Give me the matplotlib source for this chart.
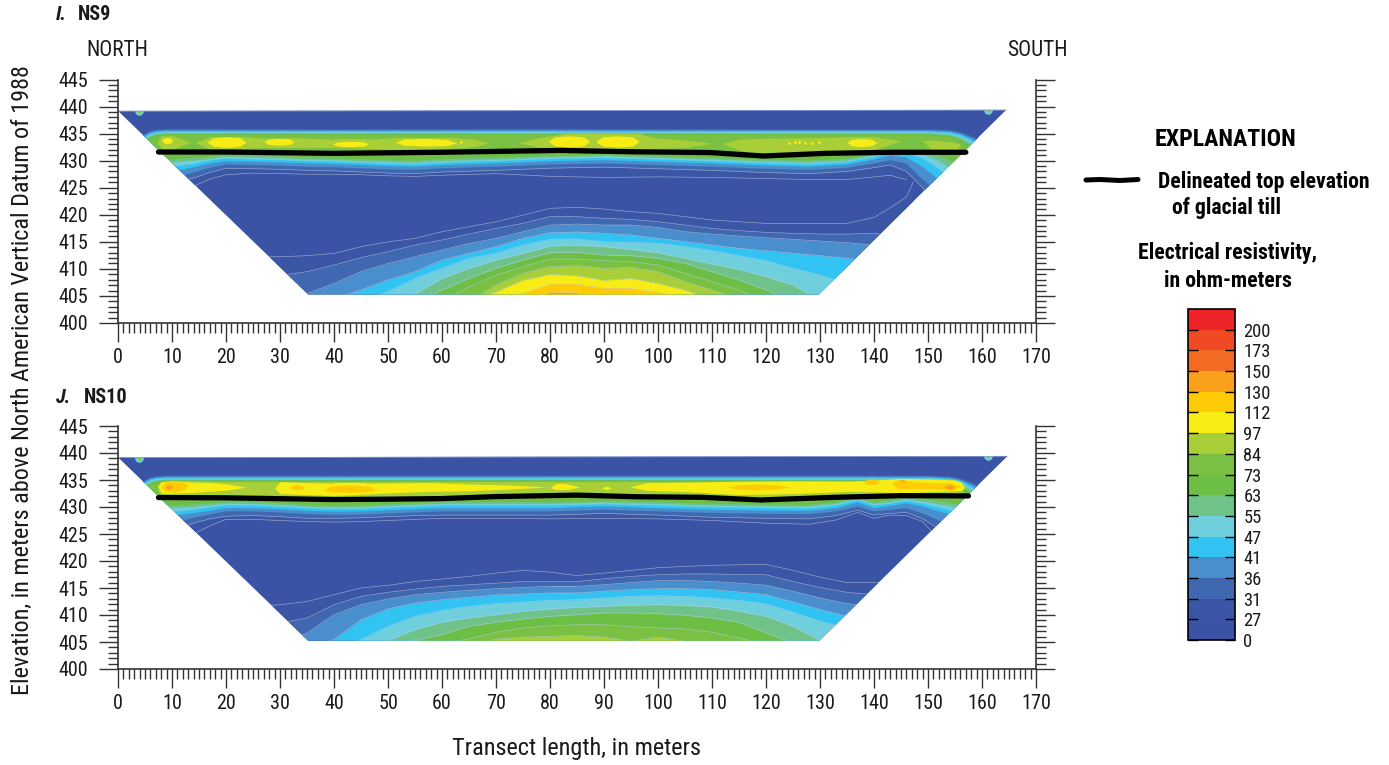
import numpy as np
import matplotlib
matplotlib.use('Agg')
import matplotlib.pyplot as plt
from matplotlib.cm import ScalarMappable
from matplotlib.colors import BoundaryNorm, ListedColormap
from matplotlib.lines import Line2D
from matplotlib.patches import Polygon
from matplotlib.ticker import MultipleLocator

plt.rcParams['font.family'] = ['Roboto Condensed', 'Liberation Sans Narrow', 'Roboto', 'Liberation Sans', 'DejaVu Sans']

W, H = 1389, 765

# legend scale, ohm-meters
levels = [0, 27, 31, 36, 41, 47, 55, 63, 73, 84, 97, 112, 130, 150, 173, 200, 230]
level_labels = ['0', '27', '31', '36', '41', '47', '55', '63', '73', '84', '97', '112', '130', '150', '173', '200']
colors = ['#3a53a4', '#3c56a6', '#3f68b1', '#4a8fcd', '#31c4f3', '#70cfdd', '#6fc388', '#6cbe45',
          '#7ac143', '#a8cf38', '#f7ec13', '#ffcb05', '#fba01c', '#f36b23', '#f04a25', '#ed2327']

# section outline (transect length, elevation)
outline_x_i = [0, 164.5, 129.8, 35.2]
outline_y_i = [439.2, 439.4, 405.3, 405.3]
outline_x_j = [0, 164.75, 129.9, 35.2]
outline_y_j = [439.2, 439.45, 405.26, 405.26]

# till top
till_x_i = [7.5, 20, 40, 50, 60, 82, 94, 109.6, 119.5, 131, 143.6, 157]
till_y_i = [431.6, 431.6, 431.35, 431.45, 431.55, 431.9, 431.66, 431.5, 430.86, 431.35, 431.55, 431.55]
till_x_j = [7.5, 20, 40, 50, 60, 70, 85, 96, 108, 119, 133, 145, 157.5]
till_y_j = [431.75, 431.7, 431.38, 431.45, 431.56, 431.93, 432.2, 431.9, 431.8, 431.3, 431.8, 432.1, 432.05]

# upper edge of the shallow conductive band, same in both sections
top_x = [3, 5, 6, 7, 9, 40, 80, 120, 150, 154, 156, 158, 160]
top_27 = [433, 435.3, 435.7, 435.85, 435.95, 435.9, 435.95, 435.9, 435.9, 435.8, 435.5, 434.9, 434]
top_31 = [432.8, 435, 435.5, 435.7, 435.85, 435.8, 435.85, 435.8, 435.8, 435.65, 435.3, 434.6, 433.7]
top_36 = [432.6, 434.8, 435.3, 435.55, 435.7, 435.67, 435.7, 435.67, 435.67, 435.5, 435.1, 434.3, 433.4]
top_41 = [432.4, 434.6, 435.1, 435.35, 435.5, 435.48, 435.5, 435.48, 435.48, 435.3, 434.9, 434, 433]
top_47 = [432.2, 434.3, 434.9, 435.15, 435.3, 435.3, 435.3, 435.3, 435.3, 435.1, 434.6, 433.6, 432.5]
top_55 = [432, 434, 434.6, 434.95, 435.1, 435.1, 435.1, 435.1, 435.1, 434.85, 434.3, 433.2, 432]
top_63 = [431.8, 433.6, 434.3, 434.75, 434.93, 434.93, 434.93, 434.93, 434.93, 434.6, 433.9, 432.6, 431]
top_73 = [431.5, 433.2, 433.9, 434.45, 434.74, 434.74, 434.74, 434.74, 434.74, 434.3, 433.4, 431.8, 429]

# I. NS9, lower edge of the band per contour
base_x_i = [6, 8, 11, 14, 17, 20, 25, 30, 35, 40, 45, 50, 55, 60, 70, 80, 90, 100, 110, 120, 128, 135, 140, 143, 146, 149, 152, 155, 158]
base_27_i = [424, 424.4, 424.8, 425.3, 426.6, 427.4, 427.7, 427.6, 427.5, 427.5, 427.4, 427.2, 427.1, 427.3, 427.6, 427.1, 426.9, 427, 426.9, 426.7, 426.5, 426.5, 427, 427.3, 426.5, np.nan, np.nan, np.nan, np.nan]
base_31_i = [425, 425.5, 426, 426.8, 427.8, 428.6, 428.5, 428.4, 428.2, 428.1, 427.9, 427.7, 427.6, 427.9, 428.2, 428.6, 428.8, 428.5, 428.2, 427.8, 427.6, 428, 428.7, 429.2, 428, 425, 422, 419, 416]
base_36_i = [426.5, 426.8, 427, 427.8, 428.7, 429.3, 429.2, 429.1, 428.9, 428.8, 428.6, 428.4, 428.3, 428.6, 428.9, 429.3, 429.5, 429.2, 428.9, 428.5, 428.3, 428.7, 429.5, 430.1, 429.5, 426.5, 424, 421, 418]
base_41_i = [428, 428, 428.2, 428.8, 429.5, 429.9, 429.8, 429.7, 429.5, 429.4, 429.2, 429, 428.9, 429.2, 429.5, 429.9, 430.1, 429.8, 429.5, 429.1, 428.9, 429.3, 430.2, 431, 430.6, 428.9, 426.5, 424, 420]
base_47_i = [428.8, 428.9, 429, 429.4, 430, 430.4, 430.2, 430.1, 429.9, 429.8, 429.6, 429.4, 429.3, 429.6, 429.9, 430.3, 430.5, 430.2, 429.9, 429.5, 429.3, 429.7, 430.6, 431.4, 431.4, 430.4, 428.5, 426, 422]
base_55_i = [429.4, 429.5, 429.7, 430, 430.3, 430.7, 430.5, 430.4, 430.2, 430.1, 429.9, 429.7, 429.6, 429.9, 430.2, 430.6, 430.8, 430.5, 430.2, 429.8, 429.6, 430, 430.9, 431.6, 431.8, 431.3, 429.9, 428, 424]
base_63_i = [430, 430.1, 430.3, 430.5, 430.7, 431, 430.9, 430.8, 430.6, 430.4, 430.3, 430.1, 430, 430.3, 430.6, 430.9, 431.1, 430.8, 430.5, 430.2, 430, 430.4, 431.2, 431.8, 432, 431.9, 431, 429.5, 426]
base_73_i = [430.8, 431, 431, 431.1, 431.3, 431.5, 431.4, 431.3, 431.1, 431, 430.9, 430.8, 430.7, 430.9, 431.2, 431.5, 431.6, 431.4, 431.1, 430.8, 430.6, 431, 431.6, 432.1, 432.2, 432.2, 431.8, 430.9, 428]

# J. NS10
base_x_j = [6, 8, 11, 14, 17, 20, 25, 30, 35, 40, 45, 50, 55, 60, 70, 80, 90, 100, 110, 120, 128, 133, 137, 140, 143, 146, 149, 152, 155, 158]
base_27_j = [423, 423.5, 424, 425, 426.5, 427.7, 427.7, 427.5, 427.3, 427.2, 427.3, 427.5, 427.7, 427.9, 427.9, 427.8, 427.9, 427.8, 427.5, 427, 426.8, 427.6, 429, 427.9, 428.5, 428.4, 427.3, 424, 421, 419]
base_31_j = [425, 425.5, 426, 427, 427.8, 428.3, 428.4, 428.2, 427.9, 427.9, 428, 428.2, 428.4, 428.5, 428.5, 428.5, 428.8, 428.5, 428.1, 427.9, 427.8, 428.4, 429.4, 428.5, 428.8, 429, 427.8, 426, 424, 421]
base_36_j = [426.5, 426.8, 427.3, 428, 428.6, 429.2, 429.2, 429, 428.7, 428.55, 428.6, 428.8, 429, 429.2, 429.2, 429.2, 429.5, 429.2, 428.9, 428.75, 428.7, 429.2, 430.1, 429.2, 429.5, 429.8, 428.8, 427.5, 426, 423]
base_41_j = [428, 428, 428.5, 428.9, 429.3, 429.8, 429.8, 429.6, 429.3, 429.15, 429.2, 429.4, 429.6, 429.8, 429.8, 429.8, 430.1, 429.8, 429.5, 429.35, 429.3, 429.8, 430.8, 429.8, 430.2, 430.7, 430.1, 429.2, 428.4, 426]
base_47_j = [428.8, 429, 429.2, 429.5, 429.9, 430.3, 430.25, 430.05, 429.75, 429.6, 429.65, 429.85, 430.05, 430.25, 430.25, 430.25, 430.5, 430.25, 429.95, 429.8, 429.75, 430.25, 431.2, 430.25, 430.6, 431.1, 430.6, 429.9, 429.2, 427]
base_55_j = [429.4, 429.6, 429.8, 430, 430.3, 430.6, 430.55, 430.35, 430.05, 429.9, 429.95, 430.15, 430.35, 430.55, 430.55, 430.55, 430.8, 430.55, 430.25, 430.1, 430.05, 430.55, 431.5, 430.55, 430.9, 431.4, 431, 430.5, 430, 428]
base_63_j = [430, 430.2, 430.3, 430.5, 430.7, 430.9, 430.9, 430.7, 430.4, 430.25, 430.3, 430.5, 430.7, 430.9, 430.9, 430.9, 431.15, 430.9, 430.6, 430.45, 430.4, 430.9, 431.8, 430.9, 431.25, 431.7, 431.5, 431.1, 430.6, 429]
base_73_j = [430.8, 431, 431.1, 431.2, 431.3, 431.4, 431.4, 431.2, 430.9, 430.75, 430.8, 431, 431.2, 431.4, 431.4, 431.4, 431.65, 431.4, 431.1, 430.95, 430.9, 431.4, 432, 431.4, 431.7, 432, 432, 431.8, 431.3, 430]

# deep high-resistivity body, elevation of each contour; 404 = below the section
deep_x_i = [25, 30, 35, 40, 45, 50, 55, 60, 65, 70, 75, 80, 85, 90, 95, 100, 105, 110, 115, 120, 125, 130, 135, 140, 144, 146, 147.3]
deep_27_i = [412.2, 412.25, 412.44, 412.87, 414.1, 415, 415.64, 416.87, 417.8, 418.7, 419.95, 421.2, 421.37, 421.06, 420.57, 420.26, 419.65, 419.03, 418.72, 418.41, 418.41, 418.41, 418.41, 419.52, 421.9, 423.34, 426.1]
deep_31_i = [408.5, 408.8, 409.48, 410.71, 412.07, 413.18, 414.4, 415.33, 416.44, 417.49, 418.41, 419.65, 419.65, 419.34, 419.15, 418.72, 418.1, 417.49, 417.06, 416.75, 416.57, 416.44, 416.44, 416.57, 416, 415.5, 415]
deep_36_i = [404, 404, 405.47, 407.3, 409.48, 411, 412.25, 413.48, 414.7, 415.64, 416.87, 418.1, 418.29, 418.1, 418.1, 417.67, 416.87, 416.44, 416.07, 415.76, 415.46, 415.15, 414.84, 414.41, 414, 413.5, 413]
deep_41_i = [404, 404, 404, 404.5, 406.09, 407.94, 409.48, 411.64, 412.87, 414.1, 415.64, 416.69, 416.81, 416.57, 416.26, 415.64, 415.03, 414.41, 413.79, 413.36, 412.87, 412.44, 411.95, 411.33, 411, 410.5, 410]
deep_47_i = [404, 404, 404, 404, 404, 405.78, 408.25, 410.1, 411.95, 412.87, 414.41, 415.46, 415.52, 415.03, 414.9, 414.72, 414.1, 413.36, 412.44, 411.51, 410.1, 408.86, 407.3, 406, 405, 404, 404]
deep_55_i = [404] * 6 + [405.35, 408.25, 410.1, 411.64, 412.87, 414.22, 414.4, 414.1, 413.61, 413, 411.95, 410.9, 409.91, 408.56, 407.02, 404.2] + [404] * 5
deep_63_i = [404] * 7 + [406.09, 408.25, 410.1, 411.64, 412.99, 413.05, 412.56, 412.44, 411.95, 411, 409.48, 407.94, 406.09] + [404] * 7
deep_73_i = [404] * 8 + [406.71, 408.86, 410.4, 411.82, 411.82, 411.51, 411.33, 410.71, 409.17, 407.63, 406.09] + [404] * 8
deep_84_i = [404] * 9 + [407.02, 409.17, 410.4, 410.59, 410.1, 410.28, 409.48, 407.63, 406.09, 404.5] + [404] * 8
deep_97_i = [404] * 9 + [405.78, 407.94, 408.99, 408.74, 407.9, 408.25, 407.3, 406.09, 404.2] + [404] * 9
deep_112_i = [404] * 10 + [405.6, 407.2, 407.2, 406.4, 406.4, 405.78, 404.6] + [404] * 10
deep_130_i = [404] * 11 + [405.72, 405.6] + [404] * 14

deep_x_j = [25, 30, 35, 40, 45, 50, 55, 60, 65, 70, 75, 80, 85, 90, 95, 100, 105, 110, 115, 120, 125, 130, 135, 140, 145]
deep_27_j = [411.5, 411.9, 412.5, 413.76, 415, 415.5, 416.2, 416.65, 417.15, 417.76, 418.26, 417.95, 417.3, 417.76, 418.26, 418.75, 419, 419.2, 419.3, 419.37, 418.26, 417, 416, 416, 416]
deep_31_j = [408, 408.5, 409.45, 411.9, 413.45, 414.2, 414.8, 415.3, 415.6, 415.9, 416.2, 416.2, 416.2, 416.7, 417.15, 417.45, 417.6, 417.6, 417.5, 417.45, 416.2, 415.1, 414.2, 413.75, 413.5]
deep_36_j = [404, 404.5, 406.67, 410.06, 411.9, 412.96, 413.76, 414.2, 414.56, 414.87, 415.1, 415.3, 415.3, 415.6, 416, 416.35, 416.4, 416.2, 415.9, 415.5, 414.4, 413.15, 412.1, 411.6, 411]
deep_41_j = [404, 404, 404, 405.44, 409.1, 411.15, 412.2, 412.83, 413.27, 413.7, 413.9, 414.07, 414.07, 414.4, 414.7, 414.87, 414.87, 414.7, 414.25, 413.76, 412.4, 411, 409.75, 409, 408]
deep_47_j = [404] * 4 + [405.44, 407.9, 409.75, 410.86, 411.6, 412.1, 412.4, 412.7, 412.83, 413.15, 413.45, 413.57, 413.45, 413.15, 412.7, 412.03, 410.5, 408.83, 407.6, 405, 404]
deep_55_j = [404] * 5 + [405.26, 407.3, 408.65, 409.45, 410.06, 410.7, 411.1, 411.4, 411.6, 411.8, 411.9, 411.8, 411.48, 410.7, 409.75, 407.9, 405.3, 404, 404, 404]
deep_63_j = [404] * 6 + [405.26, 406.37, 407.9, 408.65, 409.26, 409.75, 410.06, 410.37, 410.37, 410.25, 409.94, 409.45, 408.65, 406.67, 404.8] + [404] * 4
deep_73_j = [404] * 7 + [404.8, 405.56, 406.8, 407.6, 408, 408.2, 408.2, 407.8, 407.6, 407.4, 406.8, 405.75, 404.5] + [404] * 5
deep_84_j = [404] * 9 + [405.56, 405.9, 406.06, 406.2, 405.9, 405.1, 405.9, 405.1] + [404] * 8

# shallow maxima: top and bottom of each closed contour
crest_84_x_i = [7.3, 8, 10, 13.5, 14.3, 17, 23.7, 27, 32.6, 40, 46, 51, 62, 66, 68.6, 74.1, 78, 82, 90, 97, 100, 105, 110, 111.8, 115, 120, 130, 135, 140, 145, 149, 151, 155.3, 156]
crest_84_top_i = [433.4, 434.56, 434.62, 433.4, 433.4, 434.43, 434.43, 434.13, 434.25, 433.94, 433.94, 434.25, 434.25, 433.94, 433.33, 433.33, 434.25, 434.87, 434.87, 434.87, 434.13, 433.82, 433.2, 433.2, 433.94, 434.13, 434.25, 434.43, 434.43, 433.7, 433.7, 433.82, 433.33, 433]
crest_84_bot_i = [433.4, 432.28, 432.09, 433.4, 433.4, 432.09, 432.28, 432.46, 432.46, 432.46, 432.28, 432.09, 432.28, 432.6, 433.33, 433.33, 432.46, 431.97, 431.97, 432.09, 432.28, 432.46, 433.2, 433.2, 431.97, 431.05, 431.35, 431.97, 431.97, 433.7, 433.7, 431.66, 431.97, 433]
crest_97_x_i = [8.1, 8.5, 9.1, 9.7, 10.1, 16.5, 17.6, 20.1, 22.6, 23.7, 27, 27.8, 29.8, 31.8, 32.6, 39.7, 40.7, 43, 45.4, 46.4, 51.3, 53, 57, 61, 62.7, 79.7, 80.9, 83.5, 86.2, 87.4, 88.5, 89.7, 92.5, 95.3, 96.5, 135, 135.8, 137.8, 139.7, 140.5]
crest_97_top_i = [433.7, 434.2, 434.3, 434.2, 433.7, 433.45, 434.23, 434.43, 434.23, 433.45, 433.5, 434, 434.13, 434, 433.5, 433.1, 433.5, 433.6, 433.5, 433.1, 433.4, 434, 434.1, 433.9, 433.3, 433.55, 434.4, 434.6, 434.4, 433.55, 433.55, 434.4, 434.6, 434.4, 433.55, 433.35, 433.97, 434.12, 433.9, 433.3]
crest_97_bot_i = [433.7, 433.25, 433.1, 433.25, 433.7, 433.45, 432.67, 432.46, 432.67, 433.45, 433.5, 433, 432.87, 433, 433.5, 433.1, 432.7, 432.6, 432.7, 433.1, 433.4, 432.85, 432.7, 432.8, 433.3, 433.55, 432.7, 432.5, 432.7, 433.55, 433.55, 432.7, 432.5, 432.7, 433.55, 433.35, 432.75, 432.6, 432.8, 433.3]
spots_x_i = [63.6, 124.2, 125.3, 126.2, 127.2, 128.6, 129.8]
spots_y_i = [433.4, 433.35, 433.4, 433.4, 433.35, 433.35, 433.4]

crest_84_x_j = [7.3, 8, 10, 20, 40, 60, 85, 100, 120, 135, 145, 155, 156.5]
crest_84_top_j = [433, 434.7, 434.95, 434.7, 434.7, 434.7, 434.7, 434.7, 434.7, 434.8, 435, 435, 433]
crest_84_bot_j = [433, 432.3, 431.9, 432, 431.9, 432, 432.4, 432.1, 431.6, 431.9, 432.1, 432, 433]
crest_97_x_j = [7.3, 8, 10, 14, 17, 20, 23.7, 29, 30, 35, 40, 46, 50, 58, 65, 72, 79.4, 80, 81, 83, 85.5, 89.5, 90.5, 91.4, 94.7, 98, 106, 115, 125, 136, 142, 145, 150, 155, 156.2, 156.8]
crest_97_top_j = [433.9, 434.7, 434.85, 434.6, 434.55, 434.3, 433.66, 433.5, 434.7, 434.5, 434.4, 434.4, 434.45, 434.52, 434.25, 434.1, 433.7, 433.6, 434.3, 434.3, 433.7, 433.5, 433.9, 433.5, 433.7, 434.5, 434.6, 434.8, 434.85, 434.8, 435.1, 435.3, 435.2, 435, 434.6, 433.6]
crest_97_bot_j = [433.9, 432.6, 432.55, 432.7, 432.9, 433.1, 433.66, 433.5, 432.5, 432.3, 432.1, 432.4, 432.6, 432.9, 433, 433.3, 433.7, 433.6, 433.3, 433.2, 433.7, 433.5, 433.2, 433.5, 433.7, 433.1, 432.8, 432.3, 432.5, 432.9, 432.75, 432.6, 432.8, 433, 433.1, 433.6]
crest_112_x_j = [8, 8.8, 10.5, 12.3, 13, 31.7, 32.3, 33.2, 34, 34.6, 38, 39.3, 43, 46.5, 47.9, 112.7, 115, 118.5, 122, 124.4, 138, 138.6, 139.5, 140.4, 141, 143.3, 144.5, 148, 152, 154.5, 156]
crest_112_top_j = [433.6, 434.75, 434.85, 434.5, 434.1, 433.6, 433.95, 434.1, 433.95, 433.6, 433.1, 433.9, 434.1, 433.85, 433.2, 433.7, 434.1, 434.22, 434.1, 433.7, 434.65, 435.1, 435.2, 435.1, 434.65, 434.3, 435.15, 434.6, 434.5, 434.45, 433.9]
crest_112_bot_j = [433.6, 432.9, 432.75, 433.3, 434.1, 433.6, 433.35, 433.2, 433.3, 433.6, 433.1, 432.85, 432.7, 432.9, 433.2, 433.7, 433.3, 433.17, 433.3, 433.7, 434.65, 434.25, 434.15, 434.25, 434.65, 434.3, 433.4, 433.45, 433.35, 433.05, 433.9]
crest_130_x_j = [8.7, 9.3, 10.2, 144.5, 145.2, 146, 152.8, 154, 155]
crest_130_top_j = [433.7, 434.2, 433.7, 434.9, 435.05, 434.9, 433.7, 434.2, 433.7]
crest_130_bot_j = [433.7, 433.25, 433.7, 434.9, 434.7, 434.9, 433.7, 433.3, 433.7]

tops = [top_27, top_31, top_36, top_41, top_47, top_55, top_63, top_73]


def band(level):
    return colors[levels.index(level)]


def make_axes(top_px, bottom_px):
    ax = fig.add_axes([118 / W, 1 - bottom_px / H, (1036 - 118) / W, (bottom_px - top_px) / H])
    ax.set_xlim(0, 170)
    ax.set_ylim(400, 445)
    ax.spines['top'].set_visible(False)
    for s in ['left', 'right', 'bottom']:
        ax.spines[s].set_linewidth(1.2)
        ax.spines[s].set_color('#333333')
    ax.xaxis.set_major_locator(MultipleLocator(10))
    ax.xaxis.set_minor_locator(MultipleLocator(1))
    ax.yaxis.set_major_locator(MultipleLocator(5))
    ax.yaxis.set_minor_locator(MultipleLocator(1))
    ax.tick_params(which='major', length=13.7, width=1, color='#333333', labelsize=14.5, labelcolor='#1a1a1a', left=True, right=True, bottom=True)
    ax.tick_params(which='minor', length=7.2, width=1, color='#333333', left=True, right=True, bottom=True)
    ax.tick_params(axis='x', which='major', pad=4.5)
    ax.tick_params(axis='y', which='major', pad=8)
    return ax


def draw_section(ax, outline_x, outline_y, base_x, bases, deep_x, deeps, crests, till_x, till_y):
    clip = Polygon(np.column_stack([outline_x, outline_y]), closed=True, facecolor=colors[0], edgecolor='none', transform=ax.transData)
    ax.add_patch(clip)
    faint = dict(color='#c3cee8', lw=0.45, alpha=0.7)

    for level, edge in deeps:
        edge = np.array(edge, dtype=float)
        art = ax.fill_between(deep_x, 404, edge, color=band(level), lw=0)
        art.set_clip_path(clip)
        ln, = ax.plot(deep_x, edge, **faint)
        ln.set_clip_path(clip)

    base_x = np.array(base_x, dtype=float)
    for level, top, edge in zip([27, 31, 36, 41, 47, 55, 63, 73], tops, bases):
        edge = np.array(edge, dtype=float)
        ok = np.isfinite(edge)
        px = np.r_[top_x, base_x[ok][::-1]]
        py = np.r_[top, edge[ok][::-1]]
        art = ax.fill(px, py, color=band(level), lw=0)[0]
        art.set_clip_path(clip)
        if level <= 31:
            ln, = ax.plot(base_x[ok], edge[ok], **faint)
            ln.set_clip_path(clip)

    for level, cx, ctop, cbot in crests:
        art = ax.fill_between(cx, cbot, ctop, color=band(level), lw=0)
        art.set_clip_path(clip)

    # pale speckled skin along the ground surface and the two end spots
    ln, = ax.plot(outline_x[:2], outline_y[:2], color='#8da0d2', lw=1.0)
    ln.set_clip_path(clip)
    for sx, sy in zip([3.9, 161.2], [outline_y[0], outline_y[1]]):
        s1 = ax.scatter([sx], [sy - 0.05], s=38, color='#70cfdd', lw=0)
        s2 = ax.scatter([sx], [sy - 0.05], s=9, color='#8cc63f', lw=0)
        s1.set_clip_path(clip)
        s2.set_clip_path(clip)

    ax.plot(till_x, till_y, color='black', lw=3.8, solid_capstyle='round', solid_joinstyle='round', zorder=5)


fig = plt.figure(figsize=(W / 100, H / 100), dpi=100)

ax_i = make_axes(79.5, 323)
ax_j = make_axes(426, 669)

draw_section(ax_i, outline_x_i, outline_y_i, base_x_i,
             [base_27_i, base_31_i, base_36_i, base_41_i, base_47_i, base_55_i, base_63_i, base_73_i],
             deep_x_i,
             [(27, deep_27_i), (31, deep_31_i), (36, deep_36_i), (41, deep_41_i), (47, deep_47_i), (55, deep_55_i),
              (63, deep_63_i), (73, deep_73_i), (84, deep_84_i), (97, deep_97_i), (112, deep_112_i), (130, deep_130_i)],
             [(84, crest_84_x_i, crest_84_top_i, crest_84_bot_i), (97, crest_97_x_i, crest_97_top_i, crest_97_bot_i)],
             till_x_i, till_y_i)
ax_i.scatter(spots_x_i, spots_y_i, s=4, color=band(97), lw=0, zorder=3)

draw_section(ax_j, outline_x_j, outline_y_j, base_x_j,
             [base_27_j, base_31_j, base_36_j, base_41_j, base_47_j, base_55_j, base_63_j, base_73_j],
             deep_x_j,
             [(27, deep_27_j), (31, deep_31_j), (36, deep_36_j), (41, deep_41_j), (47, deep_47_j), (55, deep_55_j),
              (63, deep_63_j), (73, deep_73_j), (84, deep_84_j)],
             [(84, crest_84_x_j, crest_84_top_j, crest_84_bot_j), (97, crest_97_x_j, crest_97_top_j, crest_97_bot_j),
              (112, crest_112_x_j, crest_112_top_j, crest_112_bot_j), (130, crest_130_x_j, crest_130_top_j, crest_130_bot_j)],
             till_x_j, till_y_j)


def txt(x, y, s, **kw):
    kw.setdefault('fontsize', 15.5)
    kw.setdefault('color', '#1a1a1a')
    kw.setdefault('va', 'center')
    fig.text(x / W, 1 - y / H, s, **kw)


txt(56, 14, 'I.', fontweight='bold', fontstyle='italic', fontsize=14.6)
txt(78, 15, 'NS9', fontweight='bold', fontsize=14.6)
txt(56, 397, 'J.', fontweight='bold', fontstyle='italic', fontsize=14.6)
txt(84, 397, 'NS10', fontweight='bold', fontsize=14.6)
txt(86, 50, 'NORTH')
txt(1007, 50, 'SOUTH')
txt(22, 380, 'Elevation, in meters above North American Vertical Datum of 1988', rotation=90, ha='center', fontsize=17.4)
txt(577, 748, 'Transect length, in meters', ha='center', fontsize=17.5)

txt(1226, 139, 'EXPLANATION', ha='center', fontweight='bold', fontsize=17.2, color='black')
fig.add_artist(Line2D([1086 / W, 1100 / W, 1120 / W, 1138 / W], [1 - 180 / H, 1 - 179.5 / H, 1 - 180.5 / H, 1 - 179.5 / H],
                      color='black', lw=3.6, solid_capstyle='round'))
txt(1158, 182, 'Delineated top elevation', fontweight='bold', fontsize=15.7, color='black')
txt(1172, 208, 'of glacial till', fontweight='bold', fontsize=15.7, color='black')
txt(1228, 253, 'Electrical resistivity,', ha='center', fontweight='bold', fontsize=15.7, color='black')
txt(1228, 281, 'in ohm-meters', ha='center', fontweight='bold', fontsize=15.7, color='black')

cax = fig.add_axes([1188 / W, 1 - 640 / H, 47 / W, 331 / H])
sm = ScalarMappable(norm=BoundaryNorm(levels, len(colors)), cmap=ListedColormap(colors))
cb = fig.colorbar(sm, cax=cax, spacing='uniform', ticks=levels[:-1])
cb.ax.set_yticklabels(level_labels)
cb.ax.tick_params(length=7, width=1, direction='in', left=True, right=True, labelsize=13.3, labelcolor='#1a1a1a', pad=6, color='black')
cb.ax.minorticks_off()
cb.outline.set_linewidth(1.2)

fig.savefig('out.png', dpi=100)
